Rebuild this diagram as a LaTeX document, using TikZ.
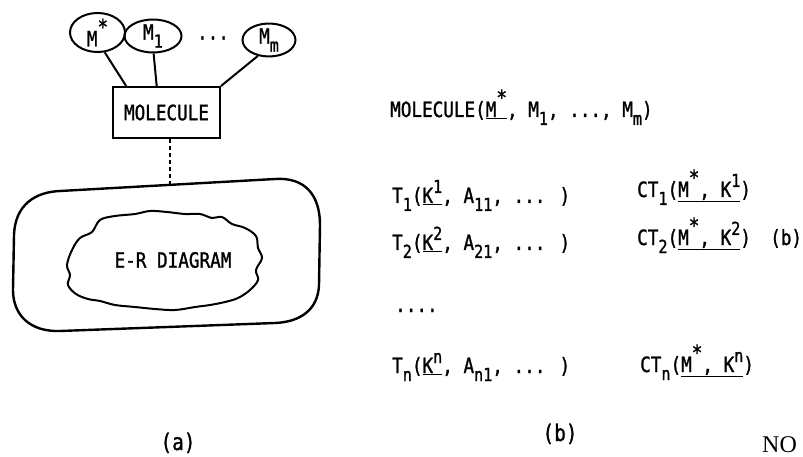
\documentclass[tikz,border=0pt]{standalone}
\usepackage{fontspec}
\usetikzlibrary{shapes.geometric,calc}
\newfontfamily\tw[FakeStretch=0.84,FakeBold=1.2]{DejaVu Sans Mono}
\newfontfamily\serifno{Liberation Serif}
\newcommand\twf{\tw\fontsize{21}{24}\selectfont}
\newcommand\tws{\fontsize{18}{20}\selectfont}
\newcommand\dn[1]{\raisebox{-8pt}{\tws #1}}
\newcommand\up[1]{\raisebox{10pt}{\tws #1}}
\newcommand\st{\raisebox{12pt}{\fontsize{21}{22}\selectfont *}}
\tikzset{
  shp/.style={draw, line width=2pt},
  ent/.style={shp, ellipse, inner sep=0pt, font=\twf},
  txt/.style={anchor=base west, inner sep=0pt, font=\twf},
  lnk/.style={line width=2pt},
  captxt/.style={anchor=base, inner sep=0pt, font=\tw\fontsize{23}{26}\selectfont}
}
\begin{document}
\begin{tikzpicture}[x=1pt,y=-1pt]
\useasboundingbox (0,0) rectangle (803,457);
\fill[white] (0,0) rectangle (803,457);

% entities
\node[ent, minimum width=55pt, minimum height=35pt] (ms) at (97.5,32.5) {M\st};
\node[ent, minimum width=57pt, minimum height=30pt] (m1) at (153,36) {M\dn{1}};
\node[ent, minimum width=53pt, minimum height=32pt] (mm) at (269,40) {M\dn{m}};
\node[inner sep=0pt, font=\twf] (dots) at (213,38) {...};

% molecule box
\node[shp, minimum width=107pt, minimum height=51pt, inner sep=0pt, font=\twf] (mol) at (166.5,112.5) {MOLECULE};

\draw[lnk] (ms.290) -- ($(mol.north west)!0.13!(mol.north east)$);
\draw[lnk] (m1.272) -- ($(mol.north west)!0.41!(mol.north east)$);
\draw[lnk] (mm.235) -- (mol.north east);

% outer E-R boundary
\coordinate (ertop) at (170,185);
\draw[line width=2.4pt] (60,191) -- (275,179) .. controls (305,177) and (320,195) .. (320,225)
  -- (319,285) .. controls (318,310) and (300,322) .. (275,323)
  -- (60,331) .. controls (30,332) and (13,315) .. (13,290)
  -- (14,235) .. controls (15,205) and (35,192) .. (60,191) -- cycle;
\draw[lnk, dash pattern=on 4pt off 3pt] (ertop |- mol.south) -- (ertop);

% cloud
\draw[line width=2pt] plot[smooth cycle, tension=0.6] coordinates {
 (72,250) (80,238) (92,232) (100,220) (115,216) (135,214) (150,211) (167,212)
 (185,214) (200,214) (212,218) (222,217) (232,224) (245,228) (256,236) (258,248)
 (262,258) (256,270) (258,280) (250,290) (238,298) (225,302) (210,305) (195,307)
 (175,310) (155,309) (135,307) (115,305) (100,301) (88,299) (76,294) (68,285)
 (70,275) (67,265)};
\node[inner sep=0pt, font=\twf] (er) at (173,260) {E-R DIAGRAM};

% relational schema
\node[txt] (molrel) at (390,117) {MOLECULE(\underline{M\st}, M\dn{1}, ..., M\dn{m})};
\node[txt] (t1) at (392,203) {T\dn{1}(\underline{K\up{1}}, A\dn{11}, ... )};
\node[txt] (t2) at (392,250) {T\dn{2}(\underline{K\up{2}}, A\dn{21}, ... )};
\node[txt] (tdots) at (395,312) {....};
\node[txt] (tn) at (392,373) {T\dn{n}(\underline{K\up{n}}, A\dn{n1}, ... )};
\node[txt] (ct1) at (637,197) {CT\dn{1}(\underline{M\st, K\up{1}})};
\node[txt] (ct2) at (637,245) {CT\dn{2}(\underline{M\st, K\up{2}})};
\node[txt] (bside) at (770,245) {(b)};
\node[txt] (ctn) at (640,372) {CT\dn{n}(\underline{M\st, K\up{n}})};

% captions
\node[captxt] (capa) at (178,450) {(a)};
\node[captxt] (capb) at (560,441) {(b)};
\node[anchor=base west, inner sep=0pt, font=\serifno\fontsize{24}{27}\selectfont] (no) at (762,452) {NO};
\end{tikzpicture}
\end{document}
